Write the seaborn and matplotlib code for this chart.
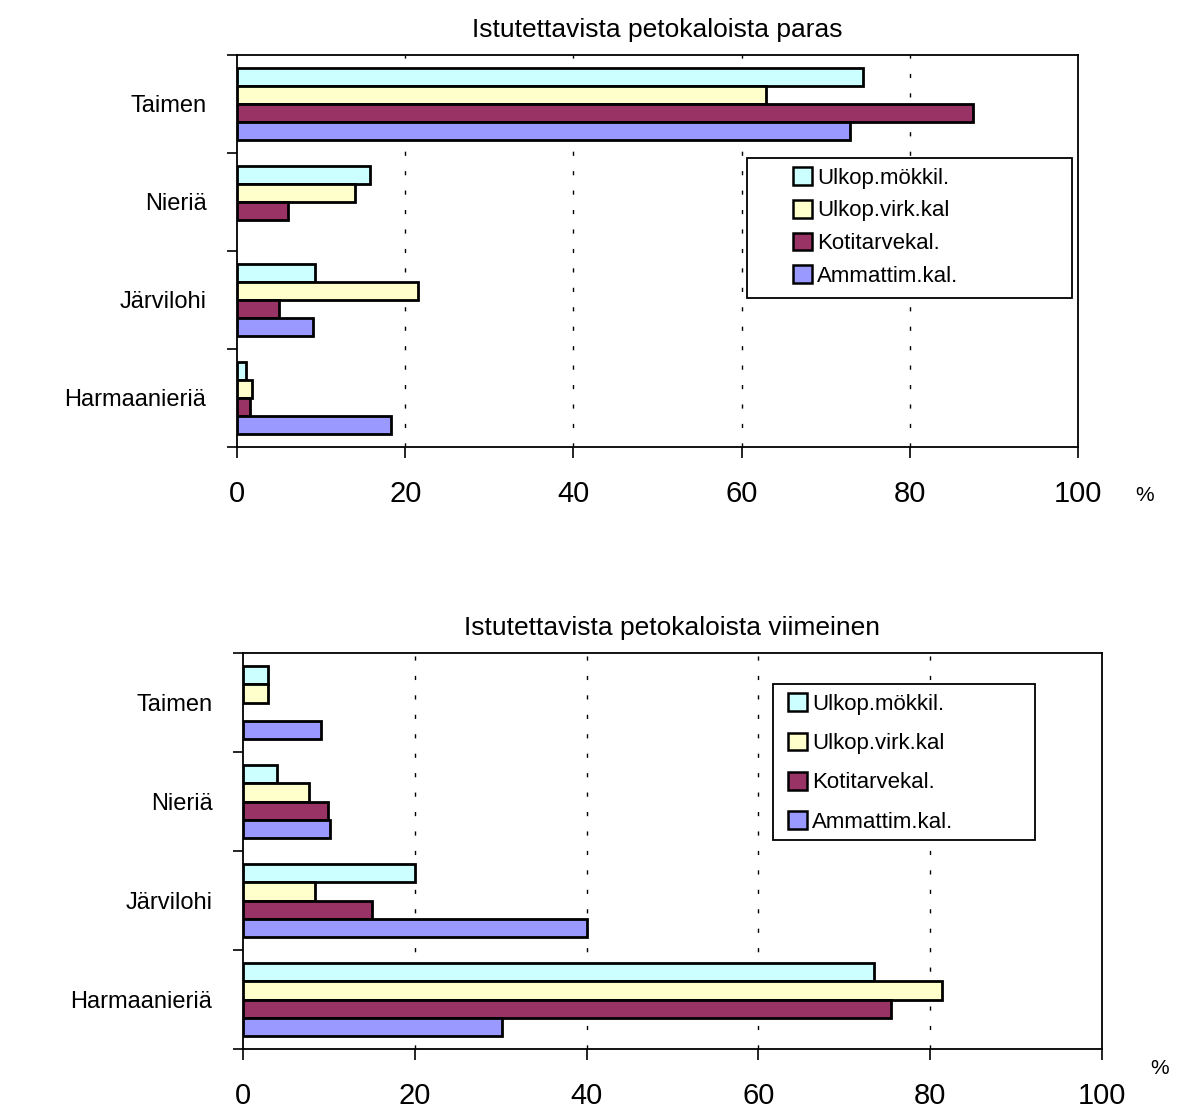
import matplotlib
matplotlib.use("Agg")
import matplotlib.pyplot as plt
import seaborn as sns
import pandas as pd
from matplotlib.ticker import FixedLocator
from matplotlib.patches import Rectangle

# ---- data ----
species = ["Taimen", "Nieriä", "Järvilohi", "Harmaanieriä"]
groups = ["Ulkop.mökkil.", "Ulkop.virk.kal", "Kotitarvekal.", "Ammattim.kal."]
colors = ["#CCFFFF", "#FFFFCC", "#993366", "#9999FF"]

# Best (paras), per group, values for species in order
best_mokkil = [74.4, 15.8, 9.3, 1.1]
best_virk = [62.9, 14.0, 21.5, 1.8]
best_koti = [87.5, 6.1, 5.0, 1.5]
best_ammatti = [72.9, 0.0, 9.0, 18.3]

# Worst (viimeinen)
worst_mokkil = [2.9, 4.0, 20.0, 73.5]
worst_virk = [2.9, 7.7, 8.4, 81.4]
worst_koti = [0.0, 9.9, 15.0, 75.4]
worst_ammatti = [9.1, 10.1, 40.0, 30.2]

title_best = "Istutettavista petokaloista paras"
title_worst = "Istutettavista petokaloista viimeinen"
xticks = [0, 20, 40, 60, 80, 100]


def make_df(series):
    rows = []
    for g, vals in zip(groups, series):
        for s, v in zip(species, vals):
            rows.append({"laji": s, "ryhma": g, "arvo": v})
    return pd.DataFrame(rows)


df_best = make_df([best_mokkil, best_virk, best_koti, best_ammatti])
df_worst = make_df([worst_mokkil, worst_virk, worst_koti, worst_ammatti])

sns.set_style("white")
plt.rcParams["font.family"] = ["Liberation Sans", "DejaVu Sans"]
plt.rcParams["text.color"] = "black"
plt.rcParams["xtick.color"] = "black"
plt.rcParams["ytick.color"] = "black"
plt.rcParams["axes.labelcolor"] = "black"

fig = plt.figure(figsize=(11.77, 11.18), dpi=100)

W, H = 1177, 1118


def box(l, t, r, b):
    return [l / W, 1 - b / H, (r - l) / W, (b - t) / H]


ax1 = fig.add_axes(box(237, 55, 1078, 447))
ax2 = fig.add_axes(box(243, 653, 1102, 1049))


def draw(ax, df, title, ax_px, frame_px, leg_px, spacing):
    l, t, r, b = ax_px

    def to_ax(x, y):
        return ((x - l) / (r - l), (b - y) / (b - t))

    sns.barplot(data=df, x="arvo", y="laji", hue="ryhma", order=species,
                hue_order=groups, palette=colors, orient="h", width=0.73,
                edgecolor="black", linewidth=2.0, errorbar=None, ax=ax,
                saturation=1)
    for p in ax.patches:
        if abs(p.get_width()) < 1e-9:
            p.set_linewidth(0)
    ax.set_xlim(0, 100)
    ax.set_ylim(3.5, -0.5)
    ax.set_xlabel("")
    ax.set_ylabel("")
    ax.set_xticks(xticks)
    ax.set_xticklabels([str(v) for v in xticks], fontsize=21)
    ax.tick_params(axis="x", direction="out", length=8, width=1.2,
                   pad=16, bottom=True, colors="black")
    ax.tick_params(axis="y", which="major", length=0, pad=22, labelsize=17)
    ax.yaxis.set_minor_locator(FixedLocator([-0.5, 0.5, 1.5, 2.5, 3.5]))
    ax.tick_params(axis="y", which="minor", direction="out", length=7,
                   width=1.2, left=True, color="black")
    for v in xticks[1:-1]:
        ax.axvline(v, color="black", linewidth=1.0,
                   linestyle=(0, (3, 11)), zorder=0)
    for sp in ax.spines.values():
        sp.set_visible(True)
        sp.set_color("black")
        sp.set_linewidth(1.3)
    ax.set_title(title, fontsize=19, pad=13)

    # legend frame
    fx0, fy0 = to_ax(frame_px[0], frame_px[3])
    fx1, fy1 = to_ax(frame_px[2], frame_px[1])
    ax.add_patch(Rectangle((fx0, fy0), fx1 - fx0, fy1 - fy0,
                           transform=ax.transAxes, facecolor="white",
                           edgecolor="black", linewidth=1.3, zorder=5))
    handles, labels = ax.get_legend_handles_labels()
    leg = ax.legend(handles, labels, loc="center left",
                    bbox_to_anchor=to_ax(*leg_px), fontsize=16,
                    frameon=False, handlelength=0.85, handleheight=0.85,
                    handletextpad=0.25, labelspacing=spacing, borderpad=0,
                    borderaxespad=0)
    leg.set_zorder(6)
    for hnd in leg.legend_handles:
        hnd.set_linewidth(1.8)


draw(ax1, df_best, title_best, (237, 55, 1078, 447),
     (747, 158, 1072, 298), (793, 227), 0.5)
draw(ax2, df_worst, title_worst, (243, 653, 1102, 1049),
     (773, 684, 1035, 840), (788, 763), 0.8)

fig.text(1145 / W, 1 - 495 / H, "%", fontsize=15, ha="center", va="center")
fig.text(1160 / W, 1 - 1068 / H, "%", fontsize=15, ha="center", va="center")

fig.savefig("out.png", dpi=100, facecolor="white")
